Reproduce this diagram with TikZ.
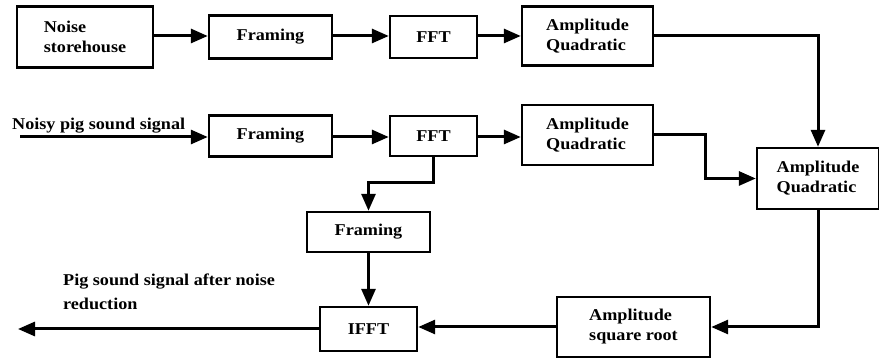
\documentclass[tikz,border=0pt]{standalone}
\usepackage{fontspec}
\setmainfont{Liberation Serif}[FakeStretch=1.1]
\usetikzlibrary{arrows.meta}
\begin{document}
\begin{tikzpicture}[x=1pt,y=-1pt,
  blk/.style={draw=black,line width=2.4pt,fill=white,align=left,inner sep=0pt,
    font=\fontsize{16.5}{20}\selectfont\bfseries},
  conn/.style={line width=3pt,-{Triangle[length=17pt,width=14pt]}},
  lbl/.style={font=\fontsize{16.5}{20}\selectfont\bfseries,inner sep=0pt}]
\useasboundingbox (0,0) rectangle (879,358);
% row 1
\node[blk,minimum width=136pt,minimum height=61pt] (ns) at (85,37) {Noise\\storehouse};
\node[blk,minimum width=123pt,minimum height=43pt] (f1) at (270.5,37) {Framing};
\node[blk,minimum width=87pt,minimum height=42pt] (fft1) at (433.5,37) {FFT};
\node[blk,minimum width=131pt,minimum height=59pt] (aq1) at (587.5,36) {Amplitude\\Quadratic};
% row 2
\node[blk,minimum width=123pt,minimum height=41pt] (f2) at (270.5,136) {Framing};
\node[blk,minimum width=87pt,minimum height=40pt] (fft2) at (433.5,136) {FFT};
\node[blk,minimum width=131pt,minimum height=60pt] (aq2) at (587.5,135) {Amplitude\\Quadratic};
\node[blk,minimum width=122pt,minimum height=61pt] (aq3) at (818,178.5) {Amplitude\\Quadratic};
% lower
\node[blk,minimum width=123pt,minimum height=40pt] (f3) at (368.5,232) {Framing};
\node[blk,minimum width=97pt,minimum height=44pt] (ifft) at (368.5,329) {IFFT};
\node[blk,minimum width=153pt,minimum height=60pt] (sq) at (633.5,327) {Amplitude\\square root};
% labels
\node[lbl,anchor=base west] (inlbl) at (12,130) {Noisy pig sound signal};
\node[lbl,anchor=north west,align=left] (outlbl) at (63,274) {Pig sound signal after noise\\[4pt]reduction};
% coordinates
\coordinate (in) at (20,137);
\coordinate (out) at (18,329);
\coordinate (j2) at (705,135);
\coordinate (j3) at (433.5,183);
% connectors
\draw[conn] (ns.east |- 0,36) -- (f1.west |- 0,36);
\draw[conn] (f1.east |- 0,36) -- (fft1.west |- 0,36);
\draw[conn] (fft1.east |- 0,36) -- (aq1.west |- 0,36);
\draw[conn] (aq1.east) -| (aq3.north);
\draw[conn] (in) -- (f2.west |- in);
\draw[conn] (f2.east |- in) -- (fft2.west |- in);
\draw[conn] (fft2.east |- in) -- (aq2.west |- in);
\draw[conn] (aq2.east) -- (j2) |- (aq3.west);
\draw[conn] (fft2.south) -- (j3) -| (f3.north);
\draw[conn] (f3.south) -- (ifft.north);
\draw[conn] (aq3.south) |- (sq.east);
\draw[conn] (sq.west) -- (ifft.east |- sq.west);
\draw[conn] (ifft.west) -- (out);
\end{tikzpicture}
\end{document}
